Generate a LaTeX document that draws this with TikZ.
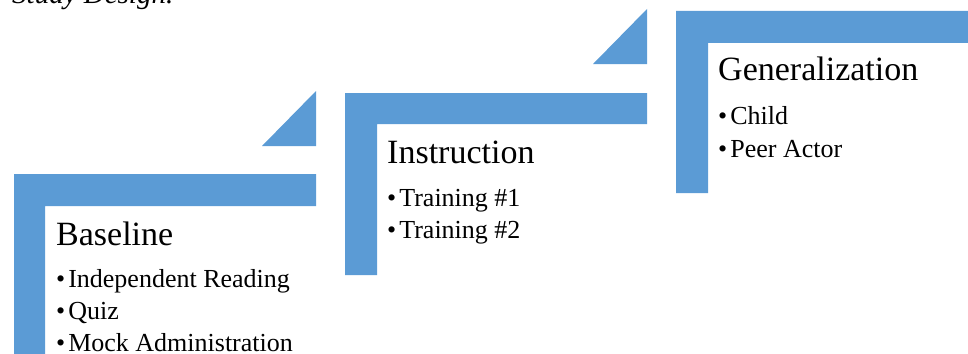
\documentclass[tikz,border=0pt]{standalone}
\usepackage{fontspec}
\setmainfont{Liberation Serif}
\definecolor{stepblue}{HTML}{5B9BD5}
\begin{document}
\begin{tikzpicture}[x=1pt,y=-1pt,
  band/.style={fill=stepblue,draw=none},
  steptitle/.style={anchor=base west,inner sep=0pt,font=\fontsize{34}{40}\selectfont},
  stepitem/.style={anchor=base west,inner sep=0pt,font=\fontsize{26}{31}\selectfont},
  captext/.style={anchor=base west,inner sep=0pt,font=\fontsize{29}{34}\selectfont\itshape}]
\useasboundingbox (0,0) rectangle (968,353);
\begin{scope}
\clip (0,0) rectangle (968,353);
% caption (cut off at top)
\node[captext] (caption) at (12,4) {Study Design.};
% step shapes
\fill[band] (14,174) -- (316,174) -- (316,206) -- (45,206) -- (45,360) -- (14,360) -- cycle;
\fill[band] (262,146) -- (316,146) -- (316,91) -- cycle;
\fill[band] (345,93) -- (647,93) -- (647,124) -- (377,124) -- (377,275) -- (345,275) -- cycle;
\fill[band] (593,64) -- (647,64) -- (647,9) -- cycle;
\fill[band] (676,11) -- (975,11) -- (975,43) -- (708,43) -- (708,193) -- (676,193) -- cycle;
% texts
\node[steptitle] (t1) at (56,245) {Baseline};
\node[stepitem] (b11) at (56,287) {•\hspace{3pt}Independent Reading};
\node[stepitem] (b12) at (56,319.5) {•\hspace{3pt}Quiz};
\node[stepitem] (b13) at (56,351.5) {•\hspace{3pt}Mock Administration};
\node[steptitle] (t2) at (387,163) {Instruction};
\node[stepitem] (b21) at (387,206) {•\hspace{3pt}Training \#1};
\node[stepitem] (b22) at (387,238) {•\hspace{3pt}Training \#2};
\node[steptitle] (t3) at (718,81) {Generalization};
\node[stepitem] (b31) at (718,124) {•\hspace{3pt}Child};
\node[stepitem] (b32) at (718,157) {•\hspace{3pt}Peer Actor};
\end{scope}
\end{tikzpicture}
\end{document}
